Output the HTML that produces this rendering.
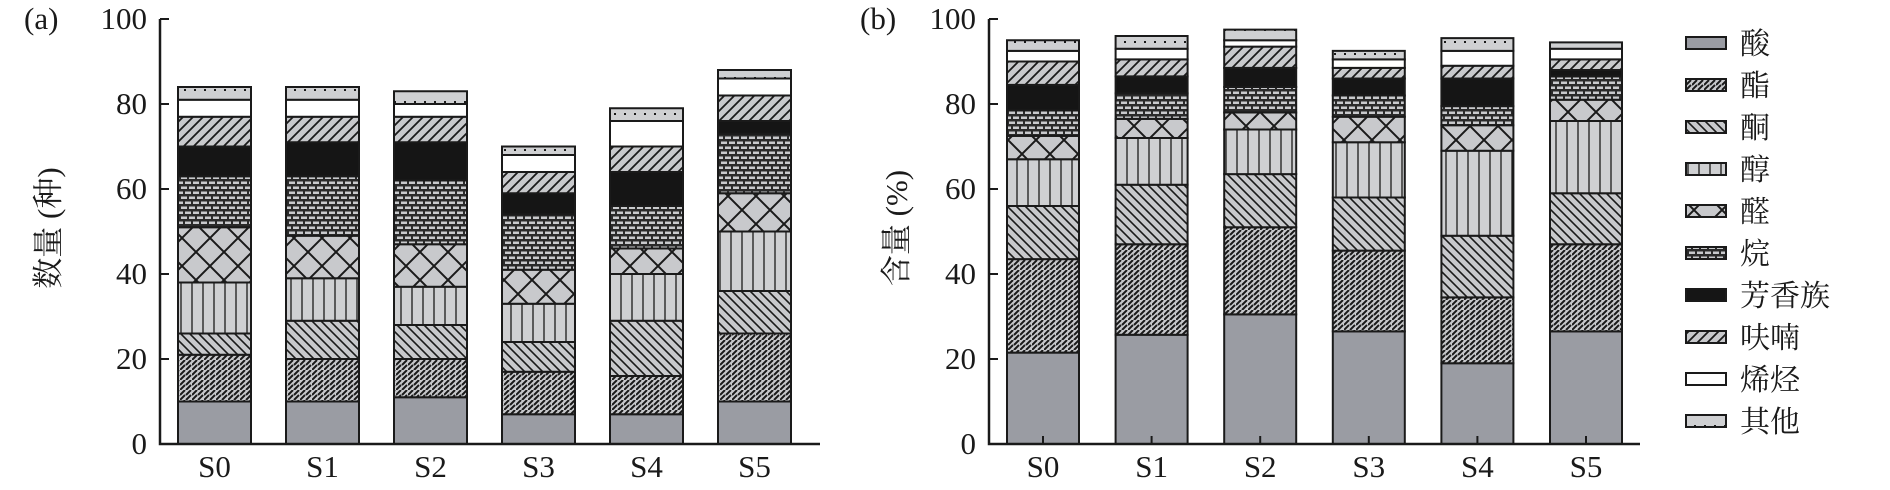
<!DOCTYPE html>
<html><head><meta charset="utf-8">
<style>
body{margin:0;background:#fff;}
svg{display:block;}
svg text{font-family:"Liberation Serif","Times New Roman","DejaVu Serif","Noto Serif CJK SC",serif;fill:#1a1a1a;}
</style></head>
<body>
<svg id="chart" width="1890" height="490" viewBox="0 0 1890 490" xmlns="http://www.w3.org/2000/svg">
<defs>
<pattern id="p-ester" patternUnits="userSpaceOnUse" width="12" height="10">
<rect width="12" height="10" fill="#c8c9cc"/>
<path d="M0,5 L5,0 M6,10 L11,5 M6,5 L11,0 M0,10 L5,5" stroke="#1a1a1a" stroke-width="2"/>
</pattern>
<pattern id="p-ketone" patternUnits="userSpaceOnUse" width="9" height="9">
<rect width="9" height="9" fill="#c8c9cc"/>
<path d="M-2,-2 L11,11 M-2,7 L2,11 M7,-2 L11,2" stroke="#1a1a1a" stroke-width="1.6"/>
</pattern>
<pattern id="p-alcohol" patternUnits="userSpaceOnUse" width="11" height="10">
<rect width="11" height="10" fill="#cfd0d2"/>
<path d="M5,0 L5,10" stroke="#1a1a1a" stroke-width="1.3"/>
</pattern>
<pattern id="p-aldehyde" patternUnits="userSpaceOnUse" width="28" height="28">
<rect width="28" height="28" fill="#c8c9cc"/>
<path d="M0,0 L28,28 M28,0 L0,28" stroke="#1a1a1a" stroke-width="2"/>
</pattern>
<pattern id="p-alkane" patternUnits="userSpaceOnUse" width="16" height="10">
<rect width="16" height="10" fill="#2a2a2a"/>
<rect x="1" y="1.5" width="6" height="2.5" fill="#c8c9cc"/>
<rect x="9" y="1.5" width="6" height="2.5" fill="#c8c9cc"/>
<rect x="-3" y="6.5" width="6" height="2.5" fill="#c8c9cc"/>
<rect x="5" y="6.5" width="6" height="2.5" fill="#c8c9cc"/>
<rect x="13" y="6.5" width="6" height="2.5" fill="#c8c9cc"/>
</pattern>
<pattern id="p-furan" patternUnits="userSpaceOnUse" width="10" height="10">
<rect width="10" height="10" fill="#c8c9cc"/>
<path d="M-2,12 L12,-2 M-2,2 L2,-2 M8,12 L12,8" stroke="#1a1a1a" stroke-width="1.8"/>
</pattern>
<pattern id="p-other" patternUnits="userSpaceOnUse" width="10" height="12">
<rect width="10" height="12" fill="#cfd0d2"/>
<rect x="4" y="5" width="2" height="2" fill="#1a1a1a"/>
</pattern>
</defs>
<g id="left"></g>
<g id="right"></g>
<g id="legend"></g>
</svg>
<script>
const categories = ["S0","S1","S2","S3","S4","S5"];
const seriesNames = ["酸","酯","酮","醇","醛","烷","芳香族","呋喃","烯烃","其他"];
const seriesFills = ["#9a9ca3","url(#p-ester)","url(#p-ketone)","url(#p-alcohol)","url(#p-aldehyde)","url(#p-alkane)","#151515","url(#p-furan)","#ffffff","url(#p-other)"];
// counts (a)
const countAcid     = [10,10,11,7,7,10];
const countEster    = [11,10,9,10,9,16];
const countKetone   = [5,9,8,7,13,10];
const countAlcohol  = [12,10,9,9,11,14];
const countAldehyde = [13,10,10,8,6,9];
const countAlkane   = [12,14,15,13,10,14];
const countAromatic = [7,8,9,5,8,3];
const countFuran    = [7,6,6,5,6,6];
const countOlefin   = [4,4,3,4,6,4];
const countOther    = [3,3,3,2,3,2];
// content % (b)
const pctAcid     = [21.5,25.7,30.5,26.5,19,26.5];
const pctEster    = [22,21.3,20.5,19,15.5,20.5];
const pctKetone   = [12.5,14,12.5,12.5,14.5,12];
const pctAlcohol  = [11,11,10.5,13,20,17];
const pctAldehyde = [5.5,4.5,4,6,6,5];
const pctAlkane   = [6,6,6,5,4.5,5.5];
const pctAromatic = [6,4,4.5,4,6.5,1.5];
const pctFuran    = [5.5,4,5,2.5,3,2.5];
const pctOlefin   = [2.5,2.5,1.5,2,3.5,2.5];
const pctOther    = [2.5,3,2.5,2,3,1.5];
const yTicks = [0,20,40,60,80,100];

const countSeries=[countAcid,countEster,countKetone,countAlcohol,countAldehyde,countAlkane,countAromatic,countFuran,countOlefin,countOther];
const pctSeries=[pctAcid,pctEster,pctKetone,pctAlcohol,pctAldehyde,pctAlkane,pctAromatic,pctFuran,pctOlefin,pctOther];
const NS="http://www.w3.org/2000/svg";
const FONT='"Liberation Serif","Times New Roman","DejaVu Serif","Noto Serif CJK SC",serif';
function mk(tag,attrs,parent){const e=document.createElementNS(NS,tag);for(const k in attrs)e.setAttribute(k,attrs[k]);if(tag==='text')e.setAttribute('font-family',FONT);parent.appendChild(e);return e;}
const Y0=444,Y100=19;
function yScale(v){return Y0-(Y0-Y100)*v/100;}

function panel(g,axisX,axisEnd,barX0,pitch,bw,series,prefix,title,titleX,letter,letterX,xticks){
  const xScale=i=>barX0+i*pitch;
  categories.forEach((c,i)=>{
    let acc=0;
    series.forEach((s,k)=>{
      const y1=yScale(acc),y2=yScale(acc+s[i]);acc+=s[i];
      const r=mk('rect',{x:xScale(i),y:y2,width:bw,height:y1-y2,fill:seriesFills[k],stroke:'#1a1a1a','stroke-width':2},g);
      
      
    });
    const t=mk('text',{x:xScale(i)+bw/2,y:477,'text-anchor':'middle','font-size':31},g);
    t.textContent=c;
    
    
    if(xticks){const tk=mk('line',{x1:xScale(i)+bw/2,x2:xScale(i)+bw/2,y1:Y0,y2:Y0-8,stroke:'#1a1a1a','stroke-width':2},g);
      }
  });
  const ax=mk('path',{d:`M${axisX},${Y100} L${axisX},${Y0} L${axisEnd},${Y0}`,fill:'none',stroke:'#1a1a1a','stroke-width':2.5},g);
  
  yTicks.forEach(v=>{
    const l=mk('line',{x1:axisX,x2:axisX+9,y1:yScale(v),y2:yScale(v),stroke:'#1a1a1a','stroke-width':2},g);
    
    const t=mk('text',{x:axisX-13,y:yScale(v)+10,'text-anchor':'end','font-size':31},g);
    t.textContent=v;
    
  });
  const lt=mk('text',{x:letterX,y:29,'font-size':31},g);lt.textContent=letter;
  
  const tt=mk('text',{x:0,y:0,'text-anchor':'middle','font-size':31,transform:`translate(${titleX},228) rotate(-90)`},g);
  tt.textContent=title;
  
}
panel(document.getElementById('left'),160,820,178,108,73,countSeries,'count','数量 (种)',59,'(a)',24,false);
panel(document.getElementById('right'),989,1640,1007,108.6,72,pctSeries,'percent','含量 (%)',907,'(b)',860,true);

const lg=document.getElementById('legend');
seriesNames.forEach((n,k)=>{
  const cy=43+k*42;
  const r=mk('rect',{x:1686,y:cy-6,width:40,height:12,fill:seriesFills[k],stroke:'#1a1a1a','stroke-width':2},lg);
  
  const t=mk('text',{x:1740,y:cy+11,'font-size':30},lg);t.textContent=n;
  
});
</script>
</body></html>
